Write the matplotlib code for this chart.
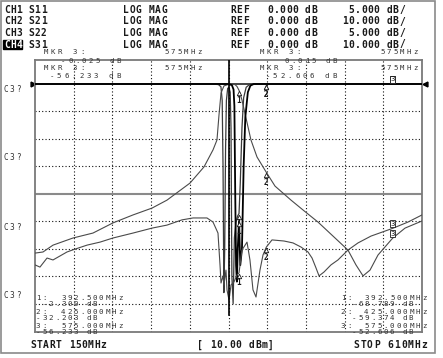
import matplotlib
matplotlib.use("Agg")
import matplotlib.pyplot as plt
import matplotlib.transforms as mtransforms
import numpy as np

W, H = 443, 358

START_MHZ, STOP_MHZ = 150, 610
MARKER_MHZ = [392.5, 425.0, 575.0]

# per-channel header: name, parameter, scale (dB/div)
CH_NAMES = ["CH1", "CH2", "CH3", "CH4"]
CH_PARAMS = ["S11", "S21", "S22", "S31"]
CH_SCALES = [5.0, 10.0, 5.0, 10.0]

# traces (MHz, dB)
S11_MHZ = [150, 300, 360, 368, 371, 372.5, 373.5, 374.5, 375.5, 376.5, 377.5, 379, 380.5,
           382, 383, 384, 385.5, 387, 389, 391, 392.5, 394, 396, 398, 401, 405, 420, 610]
S11_DB = [0, 0, 0, -0.1, -0.5, -3, -15, -38, -30, -12, -3, -0.8, -0.6,
          -1.5, -8, -35, -40, -28, -25, -24, -23.6, -18, -8, -2.5, -0.6, -0.1, 0, 0]

S22_MHZ = [150, 380, 384, 386, 387, 388, 389, 390, 391, 392.5, 394, 396, 398, 400, 403,
           406, 410, 610]
S22_DB = [0, 0, -0.2, -1, -4, -20, -33, -36, -30, -25, -33, -30, -15, -6, -1.5,
          -0.3, 0, 0]

S21_MHZ = [150, 159.5, 171.4, 195.2, 218.9, 242.7, 266.5, 289.1, 306.9, 334.2, 350.9,
           361.6, 366.3, 368.7, 371.1, 374.6, 379.4, 387.7, 390.1, 392.5, 396.0, 400.8,
           406.7, 413.9, 425.0, 435.3, 454.3, 468.6, 486.4, 504.2, 522.0, 531.5, 539.9,
           548.2, 557.7, 575.0, 589.8, 610.0]
S21_DB = [-61.6, -61.2, -58.7, -56.1, -54.3, -50.6, -47.7, -45.2, -42.3, -36.1, -30.2,
          -24.0, -20.4, -11.3, -3.3, -0.7, -0.2, -0.2, -0.9, -2.3, -5.8, -12.4,
          -20.4, -26.6, -32.2, -37.2, -42.3, -45.9, -50.3, -55.4, -60.5, -65.9, -69.9,
          -67.8, -62.3, -56.2, -52.5, -49.9]

S31_MHZ = [150, 155.9, 164.3, 171.4, 188.0, 195.2, 211.8, 227.3, 242.7, 266.5, 289.1,
           306.9, 324.7, 337.8, 354.4, 361.6, 367.5, 369.9, 371.1, 373.5, 374.6, 377.0,
           378.2, 380.6, 383.0, 386.5, 390.1, 392.5, 396.0, 402.0, 405.5, 409.1, 412.7,
           417.4, 421.0, 425.0, 431.7, 446.0, 456.7, 466.2, 474.5, 479.3, 484.0, 487.6,
           493.5, 501.8, 510.1, 522.0, 533.9, 549.4, 575.0, 593.3, 610.0]
S31_DB = [-65.9, -66.7, -63.4, -64.1, -61.2, -60.4, -58.7, -57.6, -56.1, -54.3, -52.5,
          -51.4, -49.5, -48.8, -48.8, -50.3, -54.3, -65.9, -72.5, -69.9, -73.2, -67.8,
          -75.0, -78.7, -73.2, -72.1, -69.6, -68.8, -60.5, -57.6, -64.1, -75.0, -77.6,
          -67.8, -62.3, -59.4, -56.8, -57.2, -57.9, -59.4, -61.2, -63.4, -67.0, -69.9,
          -68.5, -65.9, -64.1, -60.5, -57.9, -55.4, -52.6, -50.3, -47.7]

CENTER_LINE_DB = -42.0

# marker readouts shown on screen
TOP_LEFT = ["-0.025 dB", "-56.233 dB"]
TOP_RIGHT = ["0.015 dB", "-52.606 dB"]
LIST_LEFT = [("392.500MHz", "-2.300 dB"), ("425.000MHz", "-32.203 dB"), ("575.000MHz", "-56.233 dB")]
LIST_RIGHT = [("392.500MHz", "-68.789 dB"), ("425.000MHz", "-59.374 dB"), ("575.000MHz", "-52.606 dB")]

# screen geometry (px)
GL, GR, GT, GB = 35, 422, 59.5, 332
REF_PX, DIV_PX = 84, 27.45

MONO = "DejaVu Sans Mono"
INK = "#1a1a1a"


def mono(ax, x, y, s, pitch, size=6.0, weight="normal", color=INK, **kw):
    for i, ch in enumerate(s):
        if ch != " ":
            ax.text(x + (i + 0.5) * pitch, y, ch, ha="center", va="center",
                    fontsize=size, fontweight=weight, family=MONO, color=color, **kw)


fig = plt.figure(figsize=(W / 100, H / 100), dpi=100)
fig.patch.set_facecolor("white")

ax = fig.add_axes([GL / W, (H - GB) / H, (GR - GL) / W, (GB - GT) / H], zorder=1)
ax.set_xlim(START_MHZ, STOP_MHZ)
ax.set_ylim(-(GB - REF_PX) / DIV_PX, (REF_PX - GT) / DIV_PX)
ax.set_xticks([])
ax.set_yticks([])
for sp in ax.spines.values():
    sp.set_color("#7a7a7a")
    sp.set_linewidth(1.3)

# screen overlay for all the text, drawn on top of the graticule
scr = fig.add_axes([0, 0, 1, 1], zorder=2)
scr.set_xlim(0, W)
scr.set_ylim(H, 0)
scr.axis("off")

step = (STOP_MHZ - START_MHZ) / 10
for i in range(1, 10):
    ax.axvline(START_MHZ + i * step, color="#111", lw=0.8, ls=(0, (1, 2)), zorder=1)
for j in range(1, 9):
    if j == 4:
        ax.axhline(-j, color="#8a8a8a", lw=1.5, zorder=1)
    else:
        ax.axhline(-j, color="#111", lw=0.8, ls=(0, (1, 2)), zorder=1)
ax.axhline(0, color="#111", lw=1.1, zorder=2)

traces = [
    (S11_MHZ, S11_DB, CH_SCALES[0], "#3a3a3a", 0.9),
    (S21_MHZ, S21_DB, CH_SCALES[1], "#4a4a4a", 0.8),
    (S22_MHZ, S22_DB, CH_SCALES[2], "#000000", 1.3),
    (S31_MHZ, S31_DB, CH_SCALES[3], "#4a4a4a", 0.8),
]
for f, db, scale, col, lw in traces:
    ax.plot(f, np.array(db) / scale, color=col, lw=lw, zorder=3)

center = (START_MHZ + STOP_MHZ) / 2
ax.plot([center, center], [ax.get_ylim()[1], CENTER_LINE_DB / CH_SCALES[0]],
        color="#000", lw=1.2, zorder=4)

# reference position arrows
ax.plot([START_MHZ], [0], marker=">", ms=3.5, color="#000", clip_on=False,
        transform=mtransforms.offset_copy(ax.transData, fig, x=-2, units="dots"))
ax.plot([STOP_MHZ], [0], marker="<", ms=3.5, color="#000", clip_on=False,
        transform=mtransforms.offset_copy(ax.transData, fig, x=3, units="dots"))

# trace markers
tri = mtransforms.offset_copy(ax.transData, fig, y=-3, units="dots")
for f, db, scale, col, lw in traces:
    for k, fm in enumerate(MARKER_MHZ):
        v = np.interp(fm, f, db) / scale
        if k == 2:
            ax.annotate("3", xy=(fm, v), xytext=(0, 1.2), textcoords="offset points",
                        ha="center", va="bottom", fontsize=5.2, family=MONO, color=INK,
                        bbox=dict(boxstyle="square,pad=0.1", fc="white", ec=INK, lw=0.6),
                        zorder=6)
        else:
            ax.plot([fm], [v], marker="^", ms=3.2, mfc="white", mec=INK, mew=0.6,
                    transform=tri, zorder=6, clip_on=False)
            ax.annotate(str(k + 1), xy=(fm, v), xytext=(0, -4), textcoords="offset points",
                        ha="center", va="top", fontsize=5.5, fontweight="bold",
                        family=MONO, color=INK, zorder=6)

# outer frame
scr.add_patch(plt.Rectangle((1, 1), 434, 352, fill=False, ec="#8a8a8a", lw=1.2))

# header
rows = [10, 21.5, 33, 44.5]
for i in range(4):
    y = rows[i]
    if i == 3:
        scr.add_patch(plt.Rectangle((3, y - 4.5), 19.5, 9, color="#000", zorder=3))
        mono(scr, 3.5, y, CH_NAMES[i], 6.3, size=6.9, weight="bold", color="white", zorder=4)
    else:
        mono(scr, 3.5, y, CH_NAMES[i], 6.3, size=6.9, weight="bold")
    mono(scr, 28, y, CH_PARAMS[i], 6.3, size=6.9, weight="bold")
    mono(scr, 123, y, "LOG MAG", 6.3, size=6.9, weight="bold")
    mono(scr, 230, y, "REF", 6.3, size=6.9, weight="bold")
    mono(scr, 267, y, "0.000 dB", 6.3, size=6.9, weight="bold")
    s = f"{CH_SCALES[i]:.3f} dB/"
    mono(scr, 405 - len(s) * 6.3, y, s, 6.3, size=6.9, weight="bold")

# top marker readouts
for off, vals, val_x in [(0, TOP_LEFT, (60, 48)), (216, TOP_RIGHT, (283, 264))]:
    mono(scr, 42 + off, 52.5, "MKR 3:", 7.3, size=5.3, color="#333")
    mono(scr, 163 + off, 52.5, "575MHz", 6.6, size=5.3, color="#333")
    mono(scr, val_x[0], 61, vals[0], 6.9, size=5.3, color="#333")
    mono(scr, 42 + off, 68, "MKR 3:", 7.3, size=5.3, color="#333")
    mono(scr, 163 + off, 68, "575MHz", 6.6, size=5.3, color="#333")
    mono(scr, val_x[1], 76, vals[1], 7.4, size=5.3, color="#333")

# channel labels on the left
for y in [90, 158, 227, 295]:
    mono(scr, 3, y, "C3?", 6.0, size=5.6, color="#333")

# bottom marker lists
list_rows = [298, 304, 312.5, 318, 326.5, 332]
for k in range(3):
    mhz, db = LIST_LEFT[k]
    mono(scr, 35, list_rows[2 * k], f"{k + 1}:  {mhz}", 6.3, size=5.4, color="#333")
    mono(scr, 35, list_rows[2 * k + 1], f"{db:>10}", 6.3, size=5.4, color="#333")
    mhz, db = LIST_RIGHT[k]
    mono(scr, 340, list_rows[2 * k], f"{k + 1}:", 6.3, size=5.4, color="#333")
    mono(scr, 428 - len(mhz) * 6.5, list_rows[2 * k], mhz, 6.5, size=5.4, color="#333")
    mono(scr, 414 - len(db) * 6.3, list_rows[2 * k + 1], db, 6.3, size=5.4, color="#333")

# footer
mono(scr, 30, 345, f"START {START_MHZ}MHz", 6.4, size=6.9, weight="bold")
mono(scr, 197, 345, "[ 10.00 dBm]", 6.4, size=6.9, weight="bold")
mono(scr, 353, 345, f"STOP {STOP_MHZ}MHz", 6.8, size=6.9, weight="bold")

fig.savefig("out.png", dpi=100, facecolor="white")
